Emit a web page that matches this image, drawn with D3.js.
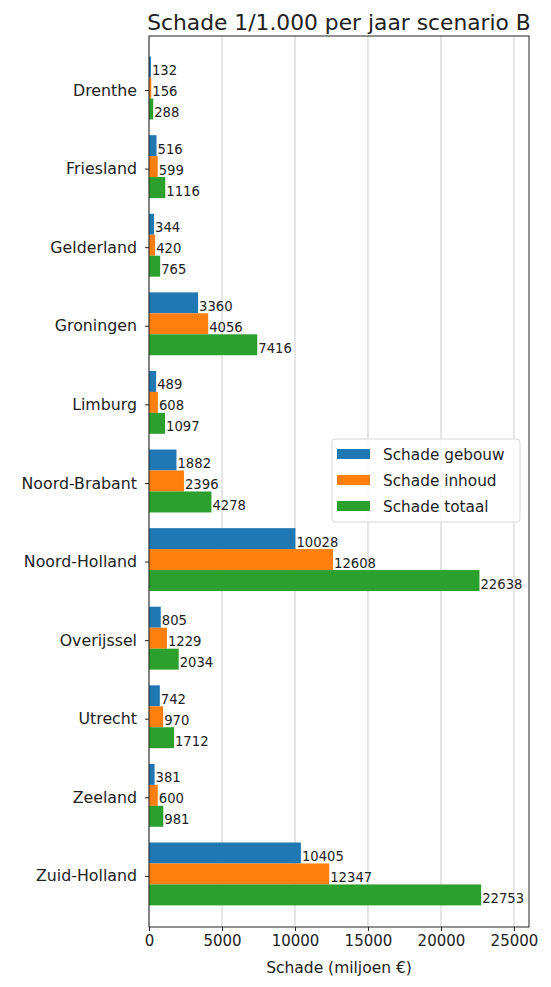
<!DOCTYPE html>
<html>
<head>
<meta charset="utf-8">
<script src="https://cdn.jsdelivr.net/npm/d3@7"></script>
<style>
  body { margin: 0; background: #fff; }
  svg text { font-family: "DejaVu Sans", sans-serif; fill: #222; }
</style>
</head>
<body>
<div id="chart"></div>
<script>
// data
const provinces = ["Drenthe", "Friesland", "Gelderland", "Groningen", "Limburg", "Noord-Brabant",
                   "Noord-Holland", "Overijssel", "Utrecht", "Zeeland", "Zuid-Holland"];
const gebouw = [132, 516, 344, 3360, 489, 1882, 10028, 805, 742, 381, 10405];
const inhoud = [156, 599, 420, 4056, 608, 2396, 12608, 1229, 970, 600, 12347];
const totaal = [288, 1116, 765, 7416, 1097, 4278, 22638, 2034, 1712, 981, 22753];
const seriesNames = ["Schade gebouw", "Schade inhoud", "Schade totaal"];
const seriesColors = ["#1f77b4", "#ff7f0e", "#2ca02c"];
const xTicks = [0, 5000, 10000, 15000, 20000, 25000];

const width = 551, height = 987;
const plot = { left: 149, right: 529, top: 36, bottom: 927 };

const svg = d3.select("#chart").append("svg")
    .attr("width", width)
    .attr("height", height);

const x = d3.scaleLinear().domain([0, 26030]).range([plot.left, plot.right]);
// category index -> pixel (centres at 0..10)
const y = d3.scaleLinear().domain([-0.687, 10.65]).range([plot.top, plot.bottom]);
const barH = 0.8 / 3;
const shift = -0.025; // bars sit a touch above the tick

// grid
svg.append("g").selectAll("line")
    .data(xTicks)
    .join("line")
    .attr("x1", d => x(d)).attr("x2", d => x(d))
    .attr("y1", plot.top).attr("y2", plot.bottom)
    .attr("stroke", "#cccccc")
    .attr("stroke-width", 1);

// bars
const series = [gebouw, inhoud, totaal];
series.forEach((vals, k) => {
    const g = svg.append("g");
    g.selectAll("rect")
        .data(vals)
        .join("rect")
        .attr("x", x(0))
        .attr("y", (d, i) => y(i + (k - 1.5) * barH + shift))
        .attr("width", d => x(d) - x(0))
        .attr("height", y(barH) - y(0))
        .attr("fill", seriesColors[k]);

    g.selectAll("text")
        .data(vals)
        .join("text")
        .attr("x", d => x(d) + 1)
        .attr("y", (d, i) => y(i + (k - 1) * barH) + 6)
        .attr("font-size", "13.2px")
        .text(d => d);
});

// spines
svg.append("rect")
    .attr("x", plot.left).attr("y", plot.top)
    .attr("width", plot.right - plot.left)
    .attr("height", plot.bottom - plot.top)
    .attr("fill", "none")
    .attr("stroke", "#222")
    .attr("stroke-width", 1);

// x axis
const xAxis = svg.append("g")
    .attr("transform", `translate(0,${plot.bottom})`)
    .call(d3.axisBottom(x).tickValues(xTicks).tickSize(4).tickPadding(4).tickFormat(d3.format("d")));
xAxis.select(".domain").remove();
xAxis.selectAll("line").attr("stroke", "#222");
xAxis.selectAll("text").attr("font-size", "15px").attr("fill", "#222");

// y axis
const yAxis = svg.append("g")
    .attr("transform", `translate(${plot.left},0)`)
    .call(d3.axisLeft(y).tickValues(d3.range(provinces.length)).tickSize(4).tickPadding(8)
        .tickFormat(i => provinces[i]));
yAxis.select(".domain").remove();
yAxis.selectAll("line").attr("stroke", "#222");
yAxis.selectAll("text").attr("font-size", "15.8px").attr("fill", "#222");

// title and axis label
svg.append("text")
    .attr("x", (plot.left + plot.right) / 2)
    .attr("y", 30)
    .attr("text-anchor", "middle")
    .attr("font-size", "21.8px")
    .text("Schade 1/1.000 per jaar scenario B");

svg.append("text")
    .attr("x", (plot.left + plot.right) / 2)
    .attr("y", 973)
    .attr("text-anchor", "middle")
    .attr("font-size", "15.5px")
    .text("Schade (miljoen €)");

// legend
const legend = svg.append("g").attr("transform", "translate(332,439)");
legend.append("rect")
    .attr("width", 188).attr("height", 83)
    .attr("rx", 3)
    .attr("fill", "#fff").attr("fill-opacity", 0.85)
    .attr("stroke", "#d8d8d8");
seriesNames.forEach((name, k) => {
    const row = legend.append("g").attr("transform", `translate(5,${15 + k * 26})`);
    row.append("rect")
        .attr("x", 0).attr("y", -5)
        .attr("width", 33).attr("height", 10)
        .attr("fill", seriesColors[k]);
    row.append("text")
        .attr("x", 46).attr("y", 5.5)
        .attr("font-size", "15.3px")
        .text(name);
});
</script>
</body>
</html>
